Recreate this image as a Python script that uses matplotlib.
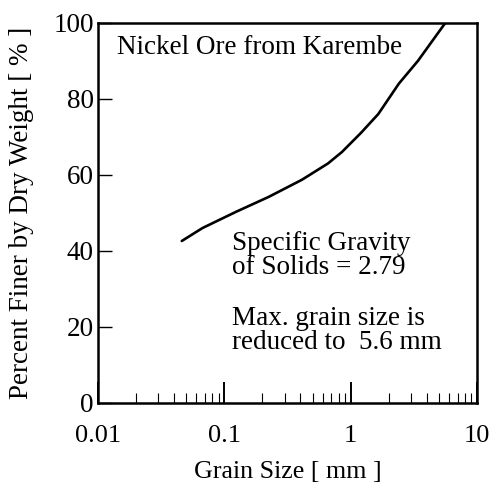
import numpy as np
import matplotlib
matplotlib.use("Agg")
import matplotlib.pyplot as plt
from matplotlib.ticker import LogLocator, NullFormatter, FixedLocator

# grain size distribution, nickel ore (Karembe)
grain_mm = [0.046, 0.067, 0.124, 0.224, 0.41, 0.66, 0.85, 1.2, 1.65, 2.4, 3.4, 5.6]
pct_finer = [42.6, 46.0, 50.3, 54.2, 58.7, 63.0, 66.0, 71.0, 76.0, 84.0, 90.0, 100.0]

x_ticks = [0.01, 0.1, 1, 10]
x_ticklabels = ["0.01", "0.1", "1", "10"]
y_ticks = [0, 20, 40, 60, 80, 100]

plt.rcParams['font.family'] = ['Liberation Serif', 'DejaVu Serif']

fig = plt.figure(figsize=(4.95, 4.86), dpi=100)
ax = fig.add_axes([0.198, 0.171, 0.766, 0.782])

ax.plot(grain_mm, pct_finer, color='black', lw=1.9, solid_capstyle='round')

ax.set_xscale('log')
ax.set_xlim(0.01, 10)
ax.set_ylim(0, 100)

ax.xaxis.set_major_locator(FixedLocator(x_ticks))
ax.set_xticklabels(x_ticklabels)
ax.xaxis.set_minor_locator(LogLocator(base=10, subs=np.arange(2, 10)))
ax.xaxis.set_minor_formatter(NullFormatter())
ax.set_yticks(y_ticks)

ax.tick_params(axis='x', which='major', direction='in', length=15, width=1.4,
               labelsize=19, pad=16)
ax.tick_params(axis='x', which='minor', direction='in', length=7, width=0.8)
ax.tick_params(axis='y', which='major', direction='in', length=10, width=1.0,
               labelsize=19.5, pad=3)

for s in ax.spines.values():
    s.set_linewidth(1.8)

ax.set_xlabel("Grain Size [ mm ]", fontsize=18.7, labelpad=10)
ax.set_ylabel("Percent Finer by Dry Weight [ % ]", fontsize=19.5, labelpad=14)

ax.text(0.05, 0.934, "Nickel Ore from Karembe", transform=ax.transAxes,
        fontsize=19.5, va='center', ha='left')
ax.text(0.354, 0.388, "Specific Gravity\nof Solids = 2.79", transform=ax.transAxes,
        fontsize=19.5, va='center', ha='left', linespacing=0.97)
ax.text(0.354, 0.191, "Max. grain size is\nreduced to  5.6 mm", transform=ax.transAxes,
        fontsize=19.5, va='center', ha='left', linespacing=0.97)

fig.savefig("out.png", dpi=100)
